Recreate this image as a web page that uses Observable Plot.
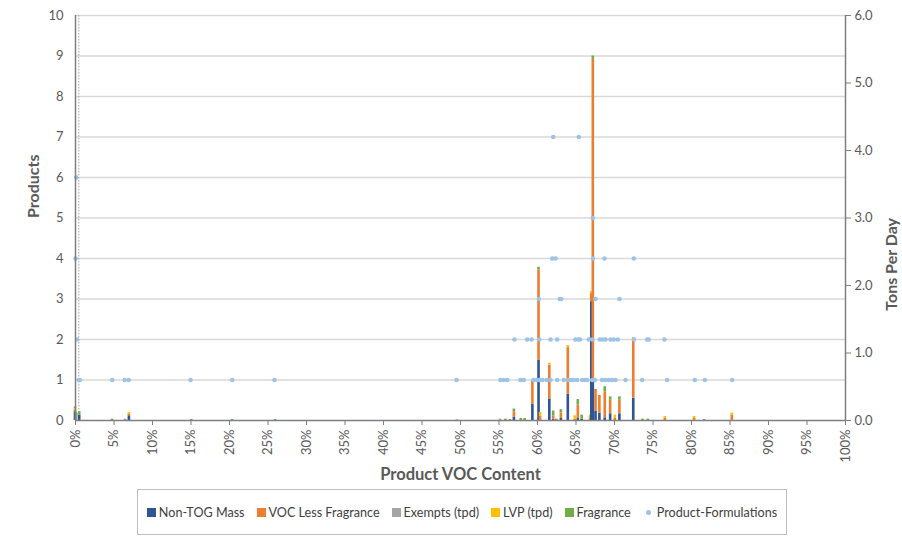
<!DOCTYPE html>
<html>
<head>
<meta charset="utf-8">
<script src="https://cdn.jsdelivr.net/npm/d3@7"></script>
<script src="https://cdn.jsdelivr.net/npm/@observablehq/plot@0.6"></script>
<style>
  body { margin: 0; background: #fff; font-family: Lato, "Open Sans", sans-serif; }
  #wrap { position: relative; width: 902px; height: 538px; overflow: hidden; }
  #chart { position: absolute; left: 0; top: 0; }
  #legend { position: absolute; left: 137px; top: 489px; width: 650px; height: 46px; box-sizing: border-box;
    border: 1px solid #bfbfbf; display: flex; align-items: center; justify-content: center; gap: 12px;
    font-size: 12.6px; color: #404040; }
  .item { display: flex; align-items: center; gap: 3px; white-space: nowrap; }
  .sw { width: 9px; height: 9px; display: inline-block; }
  .dt { width: 5px; height: 5px; border-radius: 50%; display: inline-block; margin: 0 3px; }
</style>
</head>
<body>
<div id="wrap">
  <div id="chart"></div>
  <div id="legend"></div>
</div>
<script>
// ---- Data (tons per day by product VOC content, %) ----
const barPct      = [0.0, 0.15, 0.55, 4.8, 6.5, 7.0, 15.1, 20.4, 26.0, 49.6, 55.2, 55.9, 56.5, 57.0, 57.9, 58.4, 59.4, 60.2, 60.4, 61.6, 62.1, 62.5, 63.1, 64.0, 64.9, 65.3, 65.8, 66.9, 67.05, 67.25, 67.6, 68.1, 68.8, 69.5, 70.1, 70.7, 72.5, 73.7, 74.4, 76.6, 80.4, 81.7, 85.3];
const nonTogMass  = [0.13, 0, 0.08, 0, 0, 0.07, 0, 0, 0, 0, 0, 0, 0, 0.05, 0, 0, 0.24, 0.89, 0, 0.32, 0.02, 0, 0.03, 0.39, 0, 0.03, 0.02, 0, 1.76, 0.6, 0.14, 0.11, 0.04, 0.1, 0, 0.1, 0.33, 0, 0, 0, 0, 0, 0];
const vocLessFrag = [0.02, 0, 0, 0, 0, 0.02, 0, 0, 0, 0, 0, 0, 0, 0.08, 0, 0, 0.35, 1.34, 0.06, 0.5, 0.05, 0, 0.08, 0.69, 0.02, 0.2, 0, 0.03, 0.12, 4.75, 0.32, 0.26, 0.38, 0.2, 0.03, 0.2, 0.87, 0, 0, 0.03, 0.03, 0, 0.08];
const exempts     = [0, 0.03, 0, 0, 0.02, 0, 0, 0, 0, 0.01, 0.02, 0, 0, 0, 0, 0, 0, 0, 0, 0, 0, 0, 0, 0, 0, 0, 0, 0, 0, 0, 0, 0, 0, 0, 0, 0, 0, 0, 0, 0, 0, 0, 0];
const lvp         = [0.03, 0, 0, 0, 0, 0.03, 0, 0, 0, 0, 0, 0, 0, 0, 0, 0, 0, 0, 0.06, 0.03, 0, 0, 0, 0.03, 0.05, 0, 0, 0.05, 0.03, 0, 0, 0, 0, 0, 0.05, 0, 0.03, 0, 0, 0.03, 0.03, 0, 0.03];
const fragrance   = [0.02, 0.08, 0.05, 0.02, 0, 0, 0.015, 0.015, 0.015, 0, 0, 0.02, 0.015, 0.04, 0.03, 0.03, 0, 0.04, 0, 0, 0.07, 0.02, 0.05, 0, 0, 0.08, 0.06, 0, 0, 0.05, 0, 0, 0.08, 0.05, 0, 0.05, 0, 0.02, 0.02, 0, 0, 0.015, 0];

// Product-formulations (count of products at a VOC content)
const formulationPct = [
  0.43, 0.56, 4.77, 6.40, 6.92, 14.94, 20.35, 25.84, 49.48, 55.19, 55.62, 56.06, 57.79, 58.22, 59.48, 59.87, 60.22, 60.61, 61.17, 61.69, 62.56, 63.42, 64.06, 64.42, 64.71, 65.16, 65.81, 66.17, 66.45, 67.10, 67.47, 68.40, 68.83, 69.26, 69.68, 70.13, 71.43, 73.60, 76.84, 80.43, 81.73, 85.29,
  0.22, 57.01, 58.66, 59.22, 60.22, 61.69, 62.56, 64.94, 65.32, 65.52, 66.66, 67.10, 68.09, 68.44, 68.83, 69.48, 69.91, 70.43, 72.51, 74.25, 74.45, 76.49,
  60.17, 62.90, 63.08, 67.53, 70.65,
  0.0, 61.91, 62.34, 67.2, 68.7, 72.51,
  67.18,
  0.09,
  62.04, 65.36
];
const formulationCount = [
  1,1,1,1,1,1,1,1,1,1,1,1,1,1,1,1,1,1,1,1,1,1,1,1,1,1,1,1,1,1,1,1,1,1,1,1,1,1,1,1,1,1,
  2,2,2,2,2,2,2,2,2,2,2,2,2,2,2,2,2,2,2,2,2,2,
  3,3,3,3,3,
  4,4,4,4,4,4,
  5,
  6,
  7,7
];

const xTicks = [0,5,10,15,20,25,30,35,40,45,50,55,60,65,70,75,80,85,90,95,100];
const productTicks = [0,1,2,3,4,5,6,7,8,9,10];
const tonTicks = [0,1,2,3,4,5,6];

const seriesNames  = ["Non-TOG Mass", "VOC Less Fragrance", "Exempts (tpd)", "LVP (tpd)", "Fragrance"];
const seriesColors = ["#2f5597", "#ed7d31", "#a5a5a5", "#ffc000", "#70ad47"];
const seriesValues = [nonTogMass, vocLessFrag, exempts, lvp, fragrance];

const PRODUCTS_PER_TON = 10 / 6; // left axis 0–10 ↔ right axis 0–6.0

// stack segments
const segs = [];
barPct.forEach((p, i) => {
  let acc = 0;
  seriesValues.forEach((arr, k) => {
    const v = arr[i] || 0;
    if (v > 0) { segs.push({pct: p, series: seriesNames[k], y1: acc, y2: acc + v}); acc += v; }
  });
});
const dots = formulationPct.map((p, i) => ({pct: p, count: formulationCount[i]}));

const txt = "#595959";
const chart = Plot.plot({
  width: 902,
  height: 485,
  marginLeft: 75,
  marginRight: 57,
  marginTop: 15,
  marginBottom: 65,
  style: {fontFamily: "Lato, 'Open Sans', sans-serif", background: "#fff", overflow: "visible"},
  x: {domain: [0, 100]},
  y: {domain: [0, 10]},
  color: {domain: seriesNames, range: seriesColors},
  marks: [
    Plot.ruleY(productTicks.slice(1), {stroke: "#d9d9d9", strokeWidth: 1.5}),
    Plot.ruleX([0.43], {stroke: "#a6a6a6", strokeDasharray: "1.5,1.5"}),
    Plot.rectY(segs, {
      x1: d => d.pct - 0.17, x2: d => d.pct + 0.17,
      y1: d => d.y1 * PRODUCTS_PER_TON, y2: d => d.y2 * PRODUCTS_PER_TON,
      fill: "series"
    }),
    Plot.dot(dots, {x: "pct", y: "count", r: 2.3, fill: "#9dc3e6"}),
    Plot.ruleX([0], {stroke: "#7f7f7f", strokeWidth: 1.5}),
    Plot.ruleX([100], {stroke: "#7f7f7f", strokeWidth: 1.5}),
    Plot.ruleY([0], {stroke: "#7f7f7f", strokeWidth: 1.5}),
    Plot.axisY(productTicks, {anchor: "left", tickSize: 0, tickPadding: 12, fontSize: 13, fill: txt, label: null}),
    Plot.axisY(tonTicks.map(t => t * PRODUCTS_PER_TON), {
      anchor: "right", tickSize: 5, tickPadding: 4, fontSize: 13, fill: txt, stroke: "#7f7f7f",
      tickFormat: d => (d / PRODUCTS_PER_TON).toFixed(1), label: null
    }),
    Plot.axisX(xTicks, {
      anchor: "bottom", tickSize: 5, tickPadding: 4, tickRotate: -90, fontSize: 13, fill: txt, stroke: "#7f7f7f",
      tickFormat: d => d + "%", label: null
    }),
    Plot.text(["Products"], {frameAnchor: "left", dx: -42, rotate: -90, fontSize: 16, fontWeight: "bold", fill: txt}),
    Plot.text(["Tons Per Day"], {frameAnchor: "right", dx: 46, rotate: -90, fontSize: 16, fontWeight: "bold", fill: txt}),
    Plot.text(["Product VOC Content"], {frameAnchor: "bottom", dy: 59, fontSize: 16.5, fontWeight: "bold", fill: txt})
  ]
});
document.getElementById("chart").appendChild(chart);

// legend
const legend = document.getElementById("legend");
seriesNames.forEach((n, k) => {
  const it = document.createElement("span");
  it.className = "item";
  it.innerHTML = `<span class="sw" style="background:${seriesColors[k]}"></span>${n}`;
  legend.appendChild(it);
});
const it = document.createElement("span");
it.className = "item";
it.innerHTML = `<span class="dt" style="background:#9dc3e6"></span>Product-Formulations`;
legend.appendChild(it);
</script>
</body>
</html>
